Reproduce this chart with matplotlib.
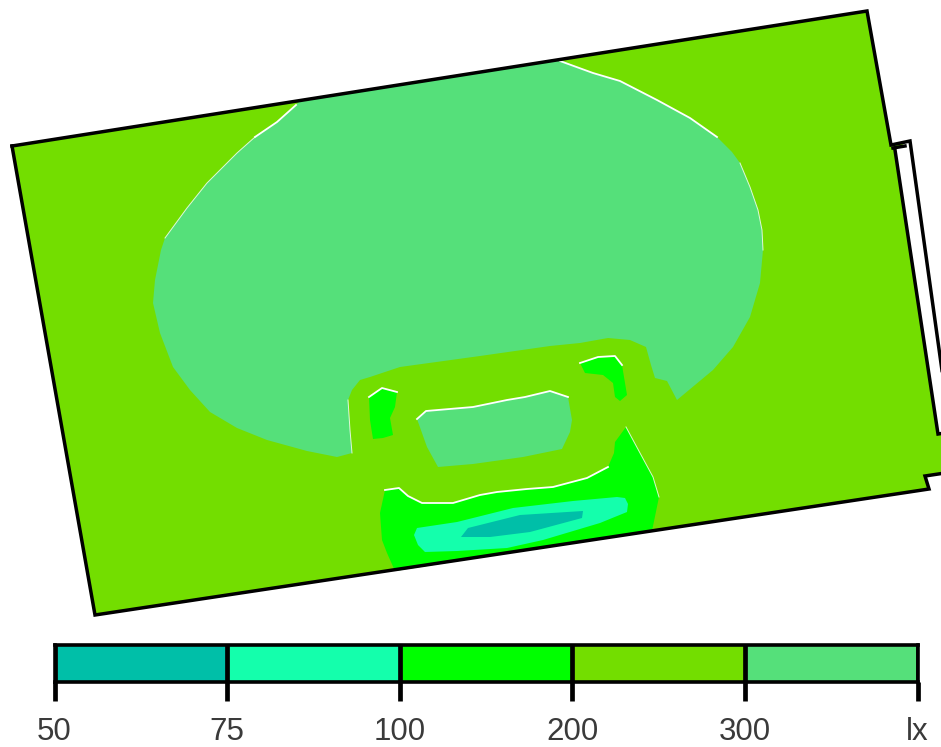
import numpy as np
import matplotlib.pyplot as plt
from matplotlib.colors import ListedColormap

plt.rcParams['font.family'] = ['Liberation Sans', 'DejaVu Sans']

# colour classes (lx)
tick_labels = ['50', '75', '100', '200', '300', 'lx']
class_colors = ['#00BFA8', '#14FFAC', '#00FF00', '#73DE00', '#55E07A']
class_index = [[0, 1, 2, 3, 4]]

# contour outlines, pixel coords
room = [(12, 146), (867, 11), (891, 145), (905, 143), (895, 150), (938, 434), (945, 433),
        (945, 473), (925, 476), (929, 489), (95, 615)]
big_area = [(300, 101), (430, 80), (560, 60), (593, 73), (620, 81), (657, 100), (690, 118), (717, 137), (732, 152),
            (740, 163), (750, 187), (758, 210), (762, 230), (763, 250), (760, 283), (750, 317), (733, 347), (713, 370),
            (677, 400), (667, 381), (655, 378), (651, 365), (646, 347), (630, 340), (608, 338), (580, 343), (550, 346),
            (480, 356), (400, 367), (370, 377), (360, 380), (352, 390), (348, 400), (350, 430), (352, 453), (337, 457),
            (307, 451), (267, 440), (237, 428), (210, 412), (190, 390), (173, 367), (160, 333), (153, 303), (155, 280),
            (161, 250), (165, 238), (187, 208), (207, 183), (237, 153), (255, 137), (277, 122)]
center_patch = [(417, 419), (426, 411), (473, 407), (507, 400), (525, 397), (550, 391), (568, 397), (572, 420),
                (570, 432), (562, 449), (523, 457), (473, 464), (438, 467), (427, 447)]
left_spot = [(369, 397), (382, 388), (397, 392), (395, 407), (390, 418), (393, 435), (383, 438), (373, 439),
             (370, 420)]
right_spot = [(580, 363), (598, 357), (615, 356), (622, 365), (627, 395), (620, 401), (615, 397), (613, 383),
              (603, 375), (585, 373)]
low_100 = [(385, 490), (399, 488), (408, 496), (422, 503), (453, 503), (480, 495), (497, 492), (527, 489), (553, 487),
           (587, 478), (608, 467), (614, 453), (615, 442), (626, 427), (640, 453), (653, 477), (659, 497), (652, 531),
           (395, 571), (387, 553), (382, 540), (380, 513)]
low_75 = [(417, 528), (457, 522), (513, 508), (573, 501), (617, 497), (625, 498), (628, 504), (627, 512), (600, 523),
          (543, 540), (507, 548), (457, 551), (425, 552), (418, 545), (414, 535)]
low_50 = [(461, 537), (468, 528), (520, 515), (583, 511), (582, 518), (530, 532), (490, 537)]

# white edge bits along the contours, thin then thicker
white_thin = [
    [(165, 238), (187, 208), (207, 183), (237, 153), (255, 137)],
    [(348, 400), (350, 430), (352, 453)],
    [(740, 163), (750, 187), (758, 210), (762, 230), (763, 250)],
    [(626, 427), (640, 453), (653, 477), (659, 497)],
]
white_thick = [
    [(255, 137), (277, 122), (296, 105)],
    [(560, 61), (593, 73), (620, 81), (657, 100), (690, 118), (717, 137)],
    [(417, 419), (426, 411), (473, 407), (507, 400), (525, 397), (550, 391), (568, 397)],
    [(369, 397), (382, 388), (397, 392)],
    [(580, 363), (598, 357), (615, 356), (622, 365)],
    [(385, 490), (399, 488), (408, 496), (422, 503), (453, 503), (480, 495), (497, 492), (527, 489), (553, 487),
     (587, 478), (608, 467)],
]

# wall lines
walls = [
    [(12, 146), (867, 11), (891, 145), (910, 141), (945, 392)],
    [(893, 148), (905, 146)],
    [(895, 150), (938, 434), (945, 433)],
    [(945, 473), (925, 476), (929, 489), (95, 615), (12, 146)],
]

fig = plt.figure(figsize=(9.41, 7.47), dpi=100)
ax = fig.add_axes([0, 0, 1, 1])
ax.set_xlim(0, 941)
ax.set_ylim(747, 0)
ax.axis('off')


def patch(points, color, z):
    pts = np.array(points)
    ax.fill(pts[:, 0], pts[:, 1], color=color, lw=0, zorder=z)


patch(room, class_colors[3], 1)
patch(big_area, class_colors[4], 2)
patch(center_patch, class_colors[4], 2)
patch(left_spot, class_colors[2], 2)
patch(right_spot, class_colors[2], 2)
patch(low_100, class_colors[2], 2)
patch(low_75, class_colors[1], 3)
patch(low_50, class_colors[0], 4)

for edge in white_thin:
    pts = np.array(edge)
    ax.plot(pts[:, 0], pts[:, 1], color='white', lw=0.7, alpha=0.8, zorder=5)
for edge in white_thick:
    pts = np.array(edge)
    ax.plot(pts[:, 0], pts[:, 1], color='white', lw=1.3, zorder=5)

for wall in walls:
    pts = np.array(wall)
    ax.plot(pts[:, 0], pts[:, 1], color='black', lw=2.5, zorder=6, solid_joinstyle='miter')

# legend bar
cax = fig.add_axes([54.5 / 941, 1 - 682 / 747, (917.5 - 54.5) / 941, 37 / 747])
cax.pcolormesh(np.arange(6), [0, 1], class_index, cmap=ListedColormap(class_colors), vmin=0, vmax=4)
cax.set_yticks([])
cax.set_xticks(np.arange(6))
cax.set_xticklabels(tick_labels, fontsize=22.5, color='#3a3a3a')
cax.tick_params(axis='x', length=13.7, width=3.4, color='black', pad=11.5)
cax.vlines(np.arange(6), 0, 1, color='black', lw=3.4)
for s in cax.spines.values():
    s.set_linewidth(2.6)

fig.savefig('out.png', dpi=100)
